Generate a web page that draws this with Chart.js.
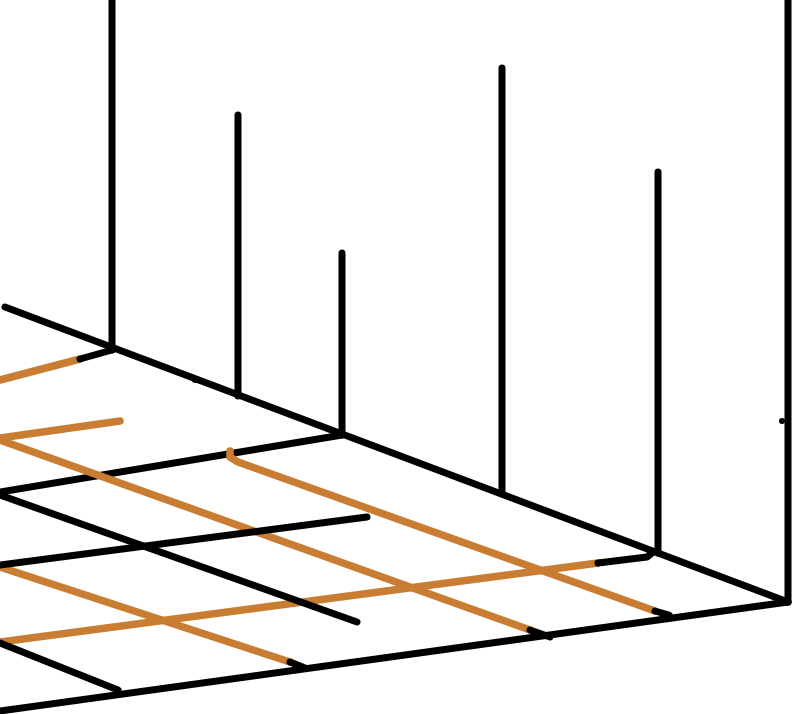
<!DOCTYPE html>
<html>
<head>
<meta charset="utf-8">
<script src="https://cdn.jsdelivr.net/npm/chart.js@4/dist/chart.umd.min.js"></script>
<style>
  html, body { margin: 0; padding: 0; background: #ffffff; }
  canvas { display: block; }
</style>
</head>
<body>
<canvas id="c" width="797" height="714"></canvas>
<script>
// ---- data (plane coordinates) ----
const stemX    = [112, 238, 342, 502, 658, 788];
const stemTop  = [-4, 115, 253, 68, 172, -4];
const stemBase = [350, 396, 435, 492, 553, 602];

const backEdge  = [[5, 307], [788, 602]];
const frontEdge = [[0, 711], [788, 602]];

// black floor lines
const blackRowA = [[0, 492], [342, 435]];
const blackRowB = [[0, 565], [367, 517]];
const blackColA = [[0, 495], [357, 622]];
const blackColB = [[0, 643], [118, 690]];

// orange floor lines (with their black tips)
const orangeA = [[0, 380], [80, 359]];
const orangeATip = [[80, 359], [112, 350]];
const orangeB = [[0, 438], [120, 421]];
const orangeC = [[0, 440], [530, 630]];
const orangeCTip = [[530, 630], [550, 637]];
const orangeD = [[230, 451], [230, 457], [238, 462], [655, 611]];
const orangeDTip = [[655, 611], [669, 615]];
const orangeE = [[0, 567], [290, 662]];
const orangeETip = [[290, 662], [305, 668]];
const orangeF = [[0, 642], [598, 563]];
const orangeFTip = [[598, 563], [647, 557], [652, 553]];

const dots = [[782, 421], [195, 380]];

// ---- build chart ----
const BLACK = '#000000';
const ORANGE = '#C97D33';
const toPts = arr => arr.map(p => ({ x: p[0], y: p[1] }));

function line(arr, color, order, width) {
  return {
    data: toPts(arr),
    showLine: true,
    borderColor: color,
    backgroundColor: color,
    borderWidth: width || 7,
    borderCapStyle: 'round',
    borderJoinStyle: 'round',
    pointRadius: 0,
    pointHoverRadius: 0,
    fill: false,
    tension: 0,
    order: order
  };
}

const datasets = [];
datasets.push(line(blackRowA, BLACK, 10));
[orangeA, orangeB, orangeC, orangeD, orangeE, orangeF].forEach(o => datasets.push(line(o, ORANGE, 8, 7.5)));
[orangeATip, orangeCTip, orangeDTip, orangeETip, orangeFTip].forEach(t => datasets.push(line(t, BLACK, 5)));
datasets.push(line(blackRowB, BLACK, 4));
datasets.push(line(blackColA, BLACK, 4));
datasets.push(line(blackColB, BLACK, 4));
datasets.push(line(backEdge, BLACK, 3));
datasets.push(line(frontEdge, BLACK, 3));
stemX.forEach((x, i) => datasets.push(line([[x, stemTop[i]], [x, stemBase[i]]], BLACK, 2)));
datasets.push({
  data: toPts(dots),
  showLine: false,
  pointRadius: 3,
  pointBackgroundColor: BLACK,
  pointBorderWidth: 0,
  order: 1
});

new Chart(document.getElementById('c'), {
  type: 'scatter',
  data: { datasets },
  options: {
    responsive: false,
    animation: false,
    devicePixelRatio: 1,
    layout: { padding: 0, autoPadding: false },
    plugins: { legend: { display: false }, tooltip: { enabled: false } },
    events: [],
    scales: {
      x: { type: 'linear', min: 0, max: 797, display: false },
      y: { type: 'linear', min: 0, max: 714, reverse: true, display: false }
    }
  }
});
</script>
</body>
</html>
